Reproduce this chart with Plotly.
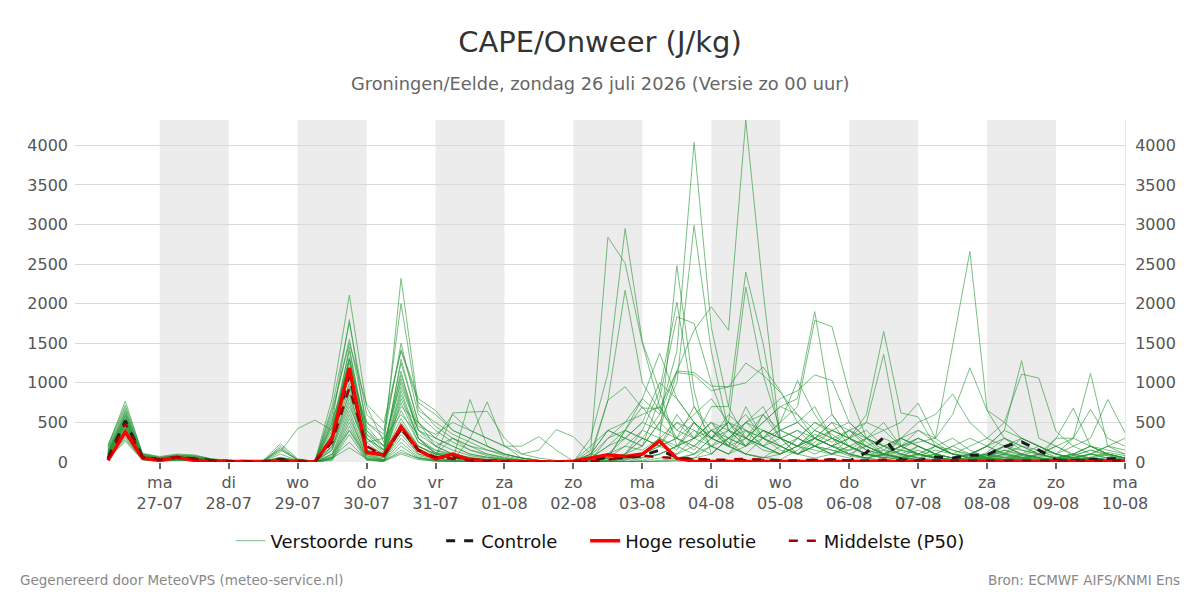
import pandas as pd
import plotly.graph_objects as go

# ---------------- data ----------------
start_time = "2026-07-26 06:00"
n_steps = 60
times = pd.date_range(start_time, periods=n_steps, freq="6h")

tick_dates = ["2026-07-27", "2026-07-28", "2026-07-29", "2026-07-30", "2026-07-31",
              "2026-08-01", "2026-08-02", "2026-08-03", "2026-08-04", "2026-08-05",
              "2026-08-06", "2026-08-07", "2026-08-08", "2026-08-09", "2026-08-10"]
tick_days = ["ma", "di", "wo", "do", "vr", "za", "zo", "ma", "di", "wo", "do", "vr", "za", "zo", "ma"]
tick_dm = ["27-07", "28-07", "29-07", "30-07", "31-07", "01-08", "02-08", "03-08",
           "04-08", "05-08", "06-08", "07-08", "08-08", "09-08", "10-08"]
band_starts = ["2026-07-27", "2026-07-29", "2026-07-31", "2026-08-02", "2026-08-04", "2026-08-06", "2026-08-08"]
band_ends = ["2026-07-28", "2026-07-30", "2026-08-01", "2026-08-03", "2026-08-05", "2026-08-07", "2026-08-09"]
y_ticks = [0, 500, 1000, 1500, 2000, 2500, 3000, 3500, 4000]

m00 = [120,560,70,40,60,50,20,10,5,5, 20,10,5,300,1450,250,80,900,300,120, 80,40,20,10,5,0,0,0,150,2840, 2510,1500,700,300,150,400,250,100,60,30, 150,300,200,100,50,20,80,150,60,20, 10,30,80,40,20,10,5,30,60,20]
m01 = [150,620,90,50,70,60,30,15,10,10, 60,20,10,500,1800,400,150,1250,500,300, 200,100,60,40,20,10,5,0,300,1120, 2950,1520,900,200,500,300,600,400,200,100, 300,500,350,200,80,150,300,200,100,50, 30,80,150,100,60,20,40,100,80,30]
m02 = [200,770,100,60,90,80,40,20,10,15, 150,30,10,450,1100,350,200,2320,700,450, 300,200,100,60,20,10,0,0,50,780, 2170,1000,650,400,300,500,200,700,300,150, 100,250,400,300,200,100,50,30,20,10, 40,80,120,60,30,10,20,50,30,20]
m03 = [180,660,80,50,80,70,30,10,5,10, 40,10,5,600,1550,500,300,1500,600,400, 250,150,80,40,20,10,0,20,100,780, 950,680,680,1150,1130,960,950,1250,1100,400, 500,700,300,200,100,60,40,80,150,100, 60,30,20,80,150,60,40,20,10,5]
m04 = [100,500,60,30,50,40,20,10,5,5, 30,10,5,800,2110,700,250,1000,400,200, 100,50,30,20,10,5,0,0,30,100, 200,150,300,2480,900,100,300,500,700,300, 200,400,600,300,150,80,200,400,250,100, 50,120,300,200,100,50,30,60,120,80]
m05 = [130,590,80,40,70,60,25,10,5,10, 100,20,5,400,1320,300,100,650,250,150, 80,50,20,10,5,0,0,0,20,300, 500,800,600,1400,4040,1700,700,300,150,100, 200,350,250,400,200,100,50,30,200,300, 150,60,30,20,100,200,80,40,20,10]
m06 = [90,450,50,30,40,30,15,5,0,5, 20,5,0,700,1760,600,400,1420,800,650, 400,300,200,100,50,20,10,0,100,400, 300,200,500,1000,2990,1400,400,200,600,300, 400,200,100,50,300,500,200,100,50,30, 100,200,400,300,200,100,50,100,200,150]
m07 = [110,480,60,30,50,40,20,10,5,10, 30,10,5,350,1200,200,50,800,300,100, 50,30,10,5,0,0,0,0,20,50, 100,300,600,1150,1665,1960,1665,4320,2170,300, 100,200,150,80,40,20,60,100,40,20, 10,30,60,30,10,5,20,40,20,10]
m08 = [120,540,70,40,60,50,20,10,5,5, 50,15,5,300,1000,150,100,1300,500,200, 300,150,100,50,20,10,5,0,50,200, 400,300,200,500,300,700,700,2400,1500,300, 400,300,500,200,100,50,150,300,200,100, 80,40,200,100,50,30,60,100,50,30]
m09 = [80,400,50,25,40,30,15,5,0,5, 200,30,10,250,950,300,150,1150,300,100, 50,20,10,5,0,0,0,0,10,100, 300,500,1000,800,500,300,500,2210,1100,880, 600,300,200,150,300,150,100,50,30,20, 50,100,50,20,10,50,100,200,100,50]
m10 = [140,600,80,45,65,55,25,10,5,10, 30,10,5,500,1250,450,200,700,500,300, 600,400,300,200,100,150,410,320,100,50, 400,700,400,1130,1100,900,950,1000,1200,900, 500,300,200,400,250,100,50,200,100,50, 30,60,150,80,40,20,30,60,30,20]
m11 = [100,520,60,35,55,45,20,10,5,5, 40,10,5,450,1400,350,120,1050,400,250, 150,80,50,30,10,5,0,0,100,400, 300,200,800,1835,1750,1000,400,300,500,700, 600,400,300,200,100,80,150,100,60,30, 20,40,100,60,30,10,20,40,20,10]
m12 = [90,460,55,30,50,40,20,5,5,10, 180,20,5,200,1150,250,300,600,350,200, 100,60,30,10,5,0,0,0,0,20, 100,200,500,300,700,400,200,300,500,700, 800,1900,600,300,200,100,60,30,20,10, 40,80,60,30,20,40,80,150,80,40]
m13 = [70,380,40,20,40,30,10,5,0,5, 10,5,0,150,900,100,50,500,200,80, 40,20,10,0,0,0,0,0,0,10, 50,100,300,500,400,200,100,400,300,500, 700,1790,1710,870,300,100,50,30,20,10, 20,50,30,20,10,5,30,50,30,20]
m14 = [110,510,65,35,55,45,20,10,5,5, 60,15,5,250,850,200,100,950,400,300, 200,100,60,30,10,5,0,0,30,60, 100,300,200,600,300,500,300,200,400,300, 200,300,400,300,600,1650,620,570,200,100, 60,30,20,40,80,50,30,20,10,5]
m15 = [100,490,60,30,50,40,20,10,5,5, 20,10,5,200,800,150,80,850,300,150, 100,50,20,10,5,0,0,0,20,50, 200,400,300,150,500,300,200,500,300,200, 100,200,300,400,500,1360,200,100,50,30, 20,40,30,20,10,30,60,30,20,10]
m16 = [90,440,50,30,45,35,15,5,0,5, 10,5,0,180,750,120,60,750,250,120, 60,30,10,5,0,0,0,0,0,10, 30,60,100,200,300,400,200,100,300,200, 100,200,150,100,200,300,200,250,300,1470, 2660,655,500,300,200,100,50,30,20,10]
m17 = [100,470,55,30,50,40,20,10,5,5, 30,10,5,150,700,200,100,550,200,100, 300,200,150,100,50,20,10,0,0,0, 0,50,100,200,400,300,500,200,400,300, 200,400,300,200,100,200,300,400,300,600, 1190,650,300,150,100,50,100,200,100,50]
m18 = [80,420,50,25,45,35,15,5,0,5, 5,0,0,100,650,100,30,450,150,60, 620,630,640,300,100,50,20,0,0,0, 50,100,200,300,200,100,300,400,200,100, 300,200,100,150,200,100,50,100,200,150, 100,200,400,1280,300,200,100,50,30,20]
m19 = [70,360,40,20,35,25,10,5,0,0, 0,0,0,80,600,60,20,400,100,50, 30,790,200,100,50,20,0,0,0,0, 0,20,100,200,300,200,100,200,400,300, 200,100,200,300,150,100,200,300,200,100, 200,300,500,1110,1060,385,200,100,50,30]
m20 = [60,340,40,20,30,25,10,5,0,0, 0,0,0,60,550,80,30,350,100,40, 20,10,5,0,0,0,0,0,0,0, 0,10,50,100,200,400,500,300,200,100, 200,300,500,400,300,200,100,50,100,200, 300,200,100,50,100,300,300,1120,200,100]
m21 = [50,320,35,20,30,20,10,0,0,0, 0,0,0,50,500,50,20,300,80,30, 20,10,5,0,0,0,0,0,0,0, 0,0,20,50,100,200,300,500,400,300, 100,200,300,200,100,50,100,200,100,50, 100,200,100,300,200,100,200,300,790,370]
m22 = [50,300,30,15,25,20,10,0,0,0, 0,0,0,40,450,40,10,250,60,20, 10,300,760,200,50,20,0,0,0,0, 0,0,10,30,100,300,200,100,50,100, 200,300,200,100,50,100,200,300,200,100, 50,100,200,100,50,300,680,200,100,50]
m23 = [40,280,30,15,25,15,5,0,0,0, 0,0,0,30,400,30,10,200,50,20, 10,5,0,0,0,0,0,0,0,0, 0,0,0,20,50,100,300,200,400,200, 100,50,100,200,100,50,300,200,100,50, 100,50,30,100,200,100,300,665,300,200]
m24 = [40,260,25,10,20,15,5,0,0,0, 0,0,0,20,350,20,5,150,40,10, 5,0,0,0,0,0,0,0,0,0, 0,0,0,0,50,200,400,600,300,500, 1030,600,300,100,50,100,200,100,50,30, 20,10,50,100,50,20,10,50,100,50]
m25 = [220,720,110,70,100,90,40,20,10,20, 230,40,10,650,1500,730,500,1400,750,600, 400,300,200,100,50,20,10,0,50,200, 300,500,400,300,200,400,300,500,600,800, 900,1100,1030,500,300,200,150,100,50,30, 60,100,200,150,100,50,30,20,10,5]
m26 = [200,690,100,60,85,75,35,15,10,15, 160,30,10,550,1050,500,350,2000,650,500, 350,250,150,80,30,10,5,0,80,300, 400,300,200,100,300,500,400,200,300,400, 300,200,400,500,300,400,500,745,300,150, 80,200,300,200,100,50,100,200,150,100]
m27 = [160,640,90,50,75,65,30,15,5,10, 50,20,5,350,1300,400,200,1100,450,350, 500,400,300,200,200,320,150,10,200,400, 500,600,700,400,600,800,500,300,200,400, 500,300,200,300,400,200,300,500,600,860, 500,300,200,100,50,30,80,150,100,50]
m28 = [130,580,75,40,60,50,20,10,5,5, 40,10,5,100,400,80,20,120,50,20, 10,5,0,0,0,0,0,0,0,50, 400,800,1375,800,500,300,400,300,200,300, 200,150,100,200,300,200,100,50,100,200, 100,50,30,50,100,200,300,200,100,50]
m29 = [120,550,70,40,60,50,20,10,5,5, 20,10,5,60,250,30,10,100,30,10, 5,0,0,0,0,0,0,0,0,30, 100,400,900,2020,700,300,200,100,50,200, 300,500,400,300,200,100,50,100,200,100, 50,100,200,300,200,100,50,100,200,300]
m30 = [90,430,50,30,45,35,15,5,0,5, 10,5,0,50,180,40,20,480,200,100, 50,20,10,5,0,0,0,0,0,0, 20,100,200,300,500,200,100,300,600,400, 300,200,100,300,500,400,200,100,50,30, 20,50,100,200,150,100,50,30,20,10]
m31 = [100,530,60,35,55,45,20,10,5,10, 130,420,530,400,1300,300,150,380,200,100, 100,50,30,10,5,0,0,0,0,20, 50,100,300,200,100,300,500,400,300,200, 100,300,200,100,50,100,300,200,100,50, 30,60,100,50,30,60,100,50,30,20]

members = [m00, m01, m02, m03, m04, m05, m06, m07, m08, m09, m10, m11, m12, m13, m14, m15,
           m16, m17, m18, m19, m20, m21, m22, m23, m24, m25, m26, m27, m28, m29, m30, m31]

control = [50,520,60,30,60,40,20,10,5,5, 30,10,5,300,1100,150,80,420,150,50, 80,30,20,10,5,0,0,0,20,60, 50,80,150,60,30,20,10,20,15,10, 10,20,30,10,120,310,30,20,65,50, 85,90,195,255,150,25,20,30,40,50]
hres = [20,380,50,20,60,20,10,5,5,5, 5,0,0,300,1186,120,90,445,150,40, 100,25,10,5,5,0,0,10,50,90, 70,100,265,45,10,5,5,5,5,5, 5,5,5,5,5,5,5,5,5,5, 5,5,5,5,5,5,5,5,5,5]
p50 = [30,490,60,30,60,40,20,10,5,5, 20,10,5,250,935,200,80,420,150,60, 40,20,10,5,0,0,0,0,10,30, 60,80,60,50,40,30,30,40,30,20, 20,30,30,20,20,30,20,20,20,20, 20,20,20,20,20,20,20,20,20,20]

# ---------------- figure ----------------
FONT = "DejaVu Sans"
PAD = "\u00a0" * 4  # extra spacing between legend entries
fig = go.Figure()

for k, vals in enumerate(members):
    fig.add_trace(go.Scatter(
        x=times, y=vals, mode="lines",
        line=dict(color="rgb(34,150,50)", width=1),
        opacity=0.6,
        name="Verstoorde runs" + PAD, legendgroup="ens",
        showlegend=(k == 0), hoverinfo="skip"))

fig.add_trace(go.Scatter(x=times, y=control, mode="lines", name="Controle" + PAD,
                         line=dict(color="#1a1a1a", width=3, dash="dash")))
fig.add_trace(go.Scatter(x=times, y=hres, mode="lines", name="Hoge resolutie" + PAD,
                         line=dict(color="#ff0000", width=3.5)))
# drawn last, on the right-hand axis (which matches the left one)
fig.add_trace(go.Scatter(x=times, y=p50, mode="lines", name="Middelste (P50)",
                         yaxis="y2",
                         line=dict(color="#a00000", width=2.5, dash="dash")))

shapes = []
for s, e in zip(band_starts, band_ends):
    shapes.append(dict(type="rect", xref="x", yref="paper", x0=s, x1=e, y0=0, y1=1,
                       fillcolor="#ececec", line=dict(width=0), layer="below"))

tick_text = [f"{d}<br>{dm}" for d, dm in zip(tick_days, tick_dm)]

fig.update_layout(
    width=1200, height=600,
    margin=dict(l=75, r=75, t=120, b=138),
    paper_bgcolor="white", plot_bgcolor="white",
    font=dict(family=FONT, color="#555"),
    title=dict(text="CAPE/Onweer (J/kg)", x=0.5, xanchor="center",
               y=1 - 42 / 600, yanchor="middle", yref="container",
               font=dict(family=FONT, size=29, color="#333")),
    shapes=shapes,
    showlegend=True,
    legend=dict(orientation="h", x=0.5, xanchor="center", y=-0.231, yanchor="middle",
                font=dict(family=FONT, size=18, color="#111"), bgcolor="rgba(0,0,0,0)"),
    xaxis=dict(type="date", range=["2026-07-25 18:30", "2026-08-10 00:00"],
               tickvals=tick_dates, ticktext=tick_text,
               ticks="outside", ticklen=6, tickcolor="#666", tickwidth=2,
               showgrid=False, zeroline=False, showline=False,
               tickfont=dict(family=FONT, size=16, color="#555")),
    yaxis=dict(range=[0, 4320], tickvals=y_ticks, showgrid=True, gridcolor="#d9d9d9",
               gridwidth=1, zeroline=False, showline=False, ticks="",
               ticklabelstandoff=6,
               tickfont=dict(family=FONT, size=16, color="#555")),
    yaxis2=dict(range=[0, 4320], tickvals=y_ticks, overlaying="y", side="right",
                matches="y", showgrid=False, zeroline=False, showline=True,
                linecolor="#e8e8e8", ticks="", ticklabelstandoff=6,
                tickfont=dict(family=FONT, size=16, color="#555")),
    annotations=[
        dict(text="Groningen/Eelde, zondag 26 juli 2026 (Versie zo 00 uur)",
             xref="paper", yref="paper", x=0.5, y=(462 - 84) / 342,
             xanchor="center", yanchor="middle", showarrow=False,
             font=dict(family=FONT, size=17.8, color="#666")),
        dict(text="Gegenereerd door MeteoVPS (meteo-service.nl)",
             xref="paper", yref="paper", x=(18 - 75) / 1050, y=(462 - 580) / 342,
             xanchor="left", yanchor="middle", showarrow=False,
             font=dict(family=FONT, size=13.5, color="#888")),
        dict(text="Bron: ECMWF AIFS/KNMI Ens",
             xref="paper", yref="paper", x=(1182 - 75) / 1050, y=(462 - 580) / 342,
             xanchor="right", yanchor="middle", showarrow=False,
             font=dict(family=FONT, size=13.5, color="#888")),
    ],
)

fig.write_html("out.html")
